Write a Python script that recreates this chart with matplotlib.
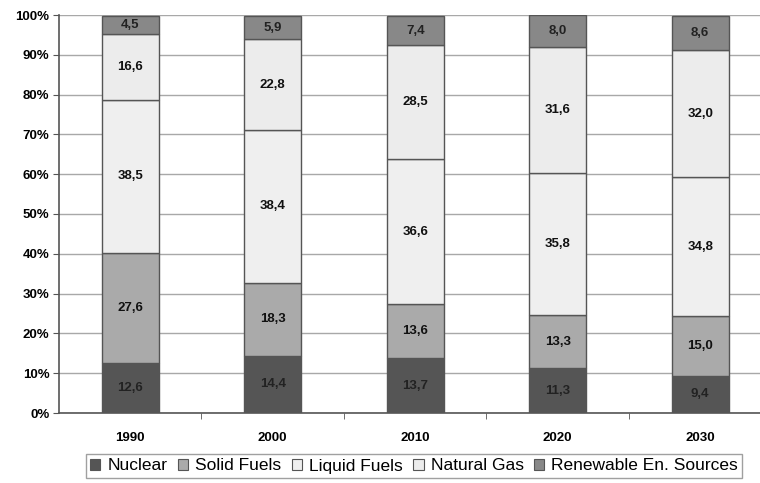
import matplotlib
matplotlib.use("Agg")
import matplotlib.pyplot as plt
from matplotlib.patches import Patch
import numpy as np

plt.rcParams['font.family'] = ['Liberation Sans', 'DejaVu Sans']

years = ['1990', '2000', '2010', '2020', '2030']
series_names = ['Nuclear', 'Solid Fuels', 'Liquid Fuels', 'Natural Gas', 'Renewable En. Sources']
nuclear = [12.6, 14.4, 13.7, 11.3, 9.4]
solid = [27.6, 18.3, 13.6, 13.3, 15.0]
liquid = [38.5, 38.4, 36.6, 35.8, 34.8]
gas = [16.6, 22.8, 28.5, 31.6, 32.0]
renew = [4.5, 5.9, 7.4, 8.0, 8.6]

colors = ['#555555', '#aaaaaa', '#efefef', '#ececec', '#888888']
txt_colors = ['#222222', '#111111', '#111111', '#111111', '#222222']

fig = plt.figure(figsize=(7.6, 4.83), dpi=100)
ax = fig.add_axes([59/760, 1-413/483, 1-59/760, (413-15)/483])

x = np.arange(len(years))
data = [nuclear, solid, liquid, gas, renew]
bottom = np.zeros(len(years))
ax.set_axisbelow(True)
for vals, c, tc in zip(data, colors, txt_colors):
    vals = np.array(vals)
    ax.bar(x, vals, bottom=bottom, width=0.40, color=c, edgecolor='#555555', linewidth=1, zorder=3)
    for xi, b, v in zip(x, bottom, vals):
        ax.text(xi, b + v/2, f"{v:.1f}".replace('.', ','), ha='center', va='center',
                fontsize=9.5, fontweight='bold', color=tc, zorder=4)
    bottom = bottom + vals

ax.set_ylim(0, 100)
ax.set_xlim(-0.5, 4.42)
ax.set_yticks(np.arange(0, 101, 10))
ax.set_yticklabels([f"{v}%" for v in range(0, 101, 10)], fontsize=9.5, fontweight='bold')
ax.yaxis.grid(True, color='#a8a8a8', linewidth=1)
ax.set_xticks(x)
ax.set_xticklabels(years, fontsize=9.5, fontweight='bold')
ax.set_xticks(np.arange(0.5, 4.5, 1), minor=True)
ax.tick_params(axis='x', which='major', length=0, pad=14)
ax.tick_params(axis='x', which='minor', length=4, color='#555555', direction='out')
ax.tick_params(axis='y', length=4, color='#555555', pad=3)
for s in ['top', 'right']:
    ax.spines[s].set_visible(False)
for s in ['left', 'bottom']:
    ax.spines[s].set_color('#555555')
    ax.spines[s].set_linewidth(1.2)

handles = [Patch(facecolor=c, edgecolor='#555555', linewidth=0.8) for c in colors]
fig.legend(handles, series_names, loc='center', bbox_to_anchor=(414/760, 1-466/483),
           ncol=5, fontsize=12.5, frameon=True, fancybox=False, edgecolor='#888888',
           handlelength=0.6, handleheight=0.6, handletextpad=0.4, columnspacing=0.6,
           borderpad=0.25)

fig.savefig('out.png', dpi=100)
